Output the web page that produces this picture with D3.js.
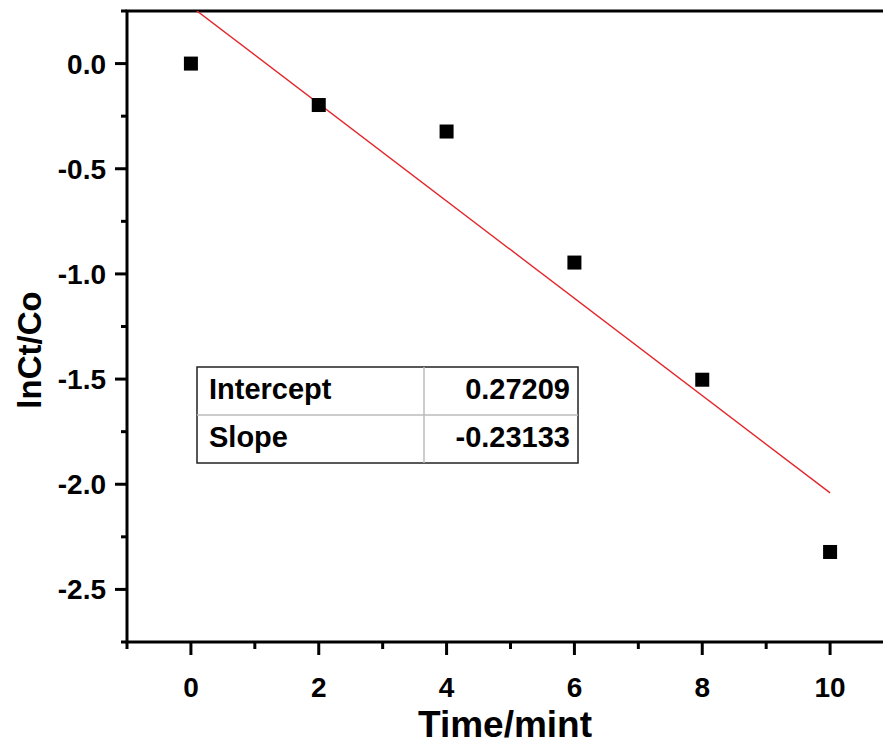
<!DOCTYPE html>
<html>
<head>
<meta charset="utf-8">
<script src="https://cdn.jsdelivr.net/npm/d3@7"></script>
<style>
  html, body { margin: 0; padding: 0; background: #fff; }
  svg { display: block; }
  text { font-family: "Liberation Sans", Arial, sans-serif; font-weight: bold; fill: #000; }
</style>
</head>
<body>
<script>
// Measured ln(Ct/Co) against time
const times = [0, 2, 4, 6, 8, 10];
const lnRatio = [0.0, -0.197, -0.323, -0.946, -1.503, -2.322];

// Linear fit parameters
const fitLabels = ["Intercept", "Slope"];
const fitValues = [0.27209, -0.23133];

const xTicks = [0, 2, 4, 6, 8, 10];
const yTicks = [0.0, -0.5, -1.0, -1.5, -2.0, -2.5];

const W = 883, H = 744;

const svg = d3.select("body").append("svg").attr("width", W).attr("height", H);

const x = d3.scaleLinear().domain([-1, 11]).range([127, 894]);
const y = d3.scaleLinear().domain([0.25, -2.75]).range([11, 642]);

// clip region for the fit line
svg.append("clipPath").attr("id", "plotClip")
  .append("rect")
  .attr("x", x(-1)).attr("y", y(0.25))
  .attr("width", x(11) - x(-1)).attr("height", y(-2.75) - y(0.25));

const fmtNum = f => d => d3.format(f)(d).replace("\u2212", "-");

// x axis: major ticks with labels, minor ticks between
const xMinor = d3.range(-1, 12, 1).filter(v => v % 2 !== 0);
const xAxisG = svg.append("g");
xAxisG.selectAll("line.major").data(xTicks).join("line")
  .attr("x1", d => x(d)).attr("x2", d => x(d))
  .attr("y1", y(-2.75)).attr("y2", y(-2.75) + 13)
  .attr("stroke", "#000").attr("stroke-width", 3);
xAxisG.selectAll("line.minor").data(xMinor).join("line")
  .attr("x1", d => x(d)).attr("x2", d => x(d))
  .attr("y1", y(-2.75)).attr("y2", y(-2.75) + 7)
  .attr("stroke", "#000").attr("stroke-width", 3);
xAxisG.selectAll("text").data(xTicks).join("text")
  .attr("x", d => x(d)).attr("y", 697)
  .attr("text-anchor", "middle").attr("font-size", 28)
  .text(fmtNum("d"));

// y axis
const yMinor = [0.25, -0.25, -0.75, -1.25, -1.75, -2.25, -2.75];
const yAxisG = svg.append("g");
yAxisG.selectAll("line.major").data(yTicks).join("line")
  .attr("x1", x(-1) - 12).attr("x2", x(-1))
  .attr("y1", d => y(d)).attr("y2", d => y(d))
  .attr("stroke", "#000").attr("stroke-width", 3);
yAxisG.selectAll("line.minor").data(yMinor).join("line")
  .attr("x1", x(-1) - 6).attr("x2", x(-1))
  .attr("y1", d => y(d)).attr("y2", d => y(d))
  .attr("stroke", "#000").attr("stroke-width", 3);
yAxisG.selectAll("text").data(yTicks).join("text")
  .attr("x", 106).attr("y", d => y(d) + 10)
  .attr("text-anchor", "end").attr("font-size", 28)
  .text(fmtNum(".1f"));

// frame
svg.append("rect")
  .attr("x", x(-1)).attr("y", y(0.25))
  .attr("width", x(11) - x(-1)).attr("height", y(-2.75) - y(0.25))
  .attr("fill", "none").attr("stroke", "#000").attr("stroke-width", 3);

// fitted line
const fitLine = d3.line().x(d => x(d)).y(d => y(fitValues[0] + fitValues[1] * d));
svg.append("path")
  .attr("clip-path", "url(#plotClip)")
  .attr("d", fitLine([0, 10]))
  .attr("fill", "none").attr("stroke", "#e3262a").attr("stroke-width", 1.4);

// data markers
const sq = 14;
svg.append("g").selectAll("rect").data(times.map((t, i) => [t, lnRatio[i]])).join("rect")
  .attr("x", d => x(d[0]) - sq / 2).attr("y", d => y(d[1]) - sq / 2)
  .attr("width", sq).attr("height", sq).attr("fill", "#000");

// axis titles
svg.append("text").attr("x", 505).attr("y", 737)
  .attr("text-anchor", "middle").attr("font-size", 37).text("Time/mint");
svg.append("text")
  .attr("transform", "translate(41,350) rotate(-90)")
  .attr("text-anchor", "middle").attr("font-size", 33).text("lnCt/Co");

// fit parameter table
const tbl = { x0: 197, x1: 424, x2: 578, y0: 367, rowH: 48 };
const tg = svg.append("g");
tg.append("rect").attr("x", tbl.x0).attr("y", tbl.y0)
  .attr("width", tbl.x2 - tbl.x0).attr("height", tbl.rowH * 2)
  .attr("fill", "#fff").attr("stroke", "#222").attr("stroke-width", 1.5);
tg.append("line").attr("x1", tbl.x1).attr("x2", tbl.x1)
  .attr("y1", tbl.y0).attr("y2", tbl.y0 + tbl.rowH * 2)
  .attr("stroke", "#bbb").attr("stroke-width", 1.5);
tg.append("line").attr("x1", tbl.x0).attr("x2", tbl.x2)
  .attr("y1", tbl.y0 + tbl.rowH).attr("y2", tbl.y0 + tbl.rowH)
  .attr("stroke", "#bbb").attr("stroke-width", 1.5);
tg.selectAll("text.lab").data(fitLabels).join("text")
  .attr("x", tbl.x0 + 12).attr("y", (d, i) => tbl.y0 + i * tbl.rowH + 32)
  .attr("font-size", 29).text(d => d);
tg.selectAll("text.val").data(fitValues).join("text")
  .attr("x", tbl.x2 - 8).attr("y", (d, i) => tbl.y0 + i * tbl.rowH + 32)
  .attr("text-anchor", "end").attr("font-size", 29)
  .text(fmtNum(".5f"));
</script>
</body>
</html>
